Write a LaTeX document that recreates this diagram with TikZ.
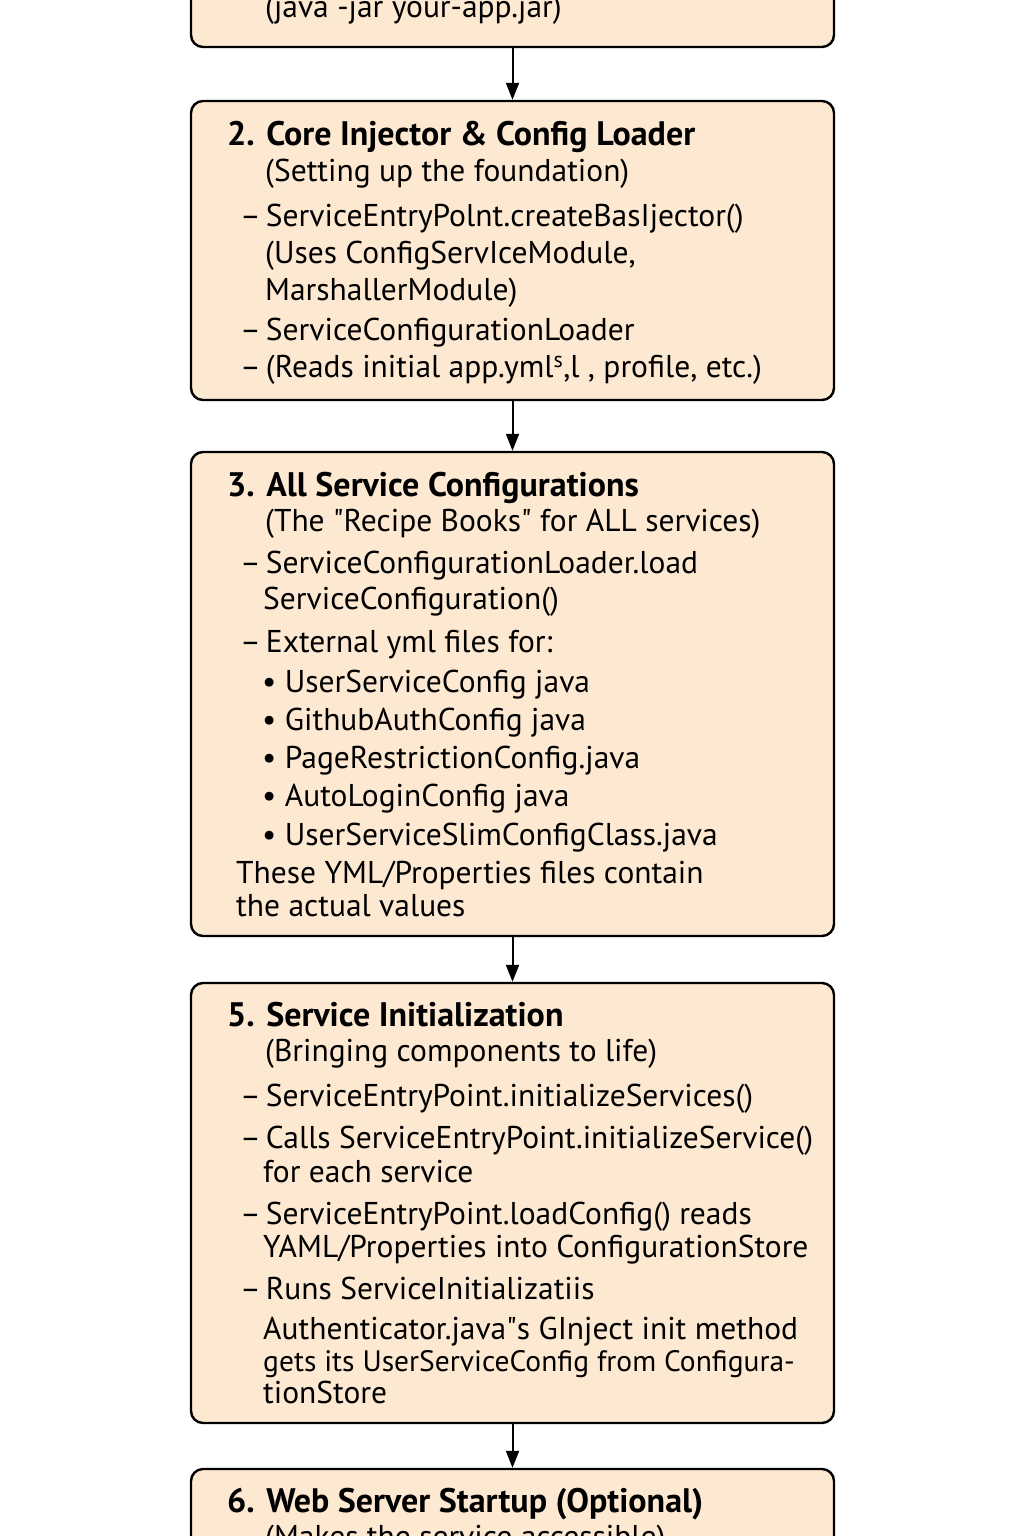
\documentclass[tikz,border=0pt]{standalone}
\usepackage{fontspec}
\setmainfont{PT Sans}
\usetikzlibrary{arrows.meta}
\definecolor{peach}{RGB}{253,232,209}
\newcommand{\dsh}{–\kern5pt}
\tikzset{
  box/.style={draw=black, line width=2.4pt, rounded corners=12pt, fill=peach,
    minimum width=643pt, inner sep=0pt},
  ttl/.style={anchor=base west, inner sep=0pt, font=\fontsize{34}{40}\selectfont\bfseries},
  txt/.style={anchor=base west, inner sep=0pt, font=\fontsize{31.5}{36}\selectfont},
  arr/.style={line width=2pt, -{Triangle[length=17pt,width=13pt]}}
}
\begin{document}
\begin{tikzpicture}[x=1pt, y=-1pt]
      \useasboundingbox (0,0) rectangle (1024,1536);
      \clip (0,0) rectangle (1024,1536);
      \fill[white] (0,0) rectangle (1024,1536);
      \node[box, minimum height=340pt] (start) at (512.5,-123) {};
      \node[box, minimum height=299pt] (core) at (512.5,250.5) {};
      \node[box, minimum height=484pt] (configs) at (512.5,694) {};
      \node[box, minimum height=440pt] (init) at (512.5,1203) {};
      \node[box, minimum height=340pt] (web) at (512.5,1639) {};
      \begin{scope}
        \draw[arr] (start) -- (core);
        \draw[arr] (core) -- (configs);
        \draw[arr] (configs) -- (init);
        \draw[arr] (init) -- (web);
      \end{scope}
      \node[txt] (s1) at (265,18) {(java -jar your-app.jar)};
      \node[ttl] (c0) at (227,146) {2. Core Injector \& Config Loader};
      \node[txt] (c1) at (265,181) {(Setting up the foundation)};
      \node[txt] (c2) at (240,226) {\dsh ServiceEntryPolnt.createBasIjector()};
      \node[txt] (c3) at (265,263) {(Uses ConfigServIceModule,};
      \node[txt] (c4) at (265,300) {MarshallerModule)};
      \node[txt] (c5) at (240,340) {\dsh ServiceConfigurationLoader};
      \node[txt] (c6) at (240,377) {\dsh (Reads initial app.yml\textsuperscript{s},l , profile, etc.)};
      \node[ttl] (a0) at (227,496) {3. All Service Configurations};
      \node[txt] (a1) at (265,531) {(The \textquotedbl Recipe Books\textquotedbl{} for ALL services)};
      \node[txt] (a2) at (240,573) {\dsh ServiceConfigurationLoader.load};
      \node[txt] (a3) at (263,609) {ServiceConfiguration()};
      \node[txt] (a4) at (240,652) {\dsh External yml files for:};
      \node[txt] (a5) at (262,692) {• UserServiceConfig java};
      \node[txt] (a6) at (262,730) {• GithubAuthConfig java};
      \node[txt] (a7) at (262,768) {• PageRestrictionConfig.java};
      \node[txt] (a8) at (262,806) {• AutoLoginConfig java};
      \node[txt] (a9) at (262,845) {• UserServiceSlimConfigClass.java};
      \node[txt] (a10) at (236,883) {These YML/Properties files contain};
      \node[txt] (a11) at (236,916) {the actual values};
      \node[ttl] (i0) at (227,1026) {5. Service Initialization};
      \node[txt] (i1) at (265,1061) {(Bringing components to life)};
      \node[txt] (i2) at (240,1106) {\dsh ServiceEntryPoint.initializeServices()};
      \node[txt] (i3) at (240,1148) {\dsh Calls ServiceEntryPoint.initializeService()};
      \node[txt] (i4) at (263,1182) {for each service};
      \node[txt] (i5) at (240,1224) {\dsh ServiceEntryPoint.loadConfig() reads};
      \node[txt] (i6) at (263,1257) {YAML/Properties into ConfigurationStore};
      \node[txt] (i7) at (240,1299) {\dsh Runs ServiceInitializatiis};
      \node[txt] (i8) at (263,1339) {Authenticator.java\textquotedbl s GInject init method};
      \node[txt, font=\fontsize{29.5}{34}\selectfont] (i9) at (263,1371) {gets its UserServiceConfig from Configura-};
      \node[txt] (i10) at (263,1403) {tionStore};
      \node[ttl] (w0) at (227,1512) {6. Web Server Startup (Optional)};
      \node[txt] (w1) at (265,1547) {(Makes the service accessible)};
    \end{tikzpicture}
\end{document}
